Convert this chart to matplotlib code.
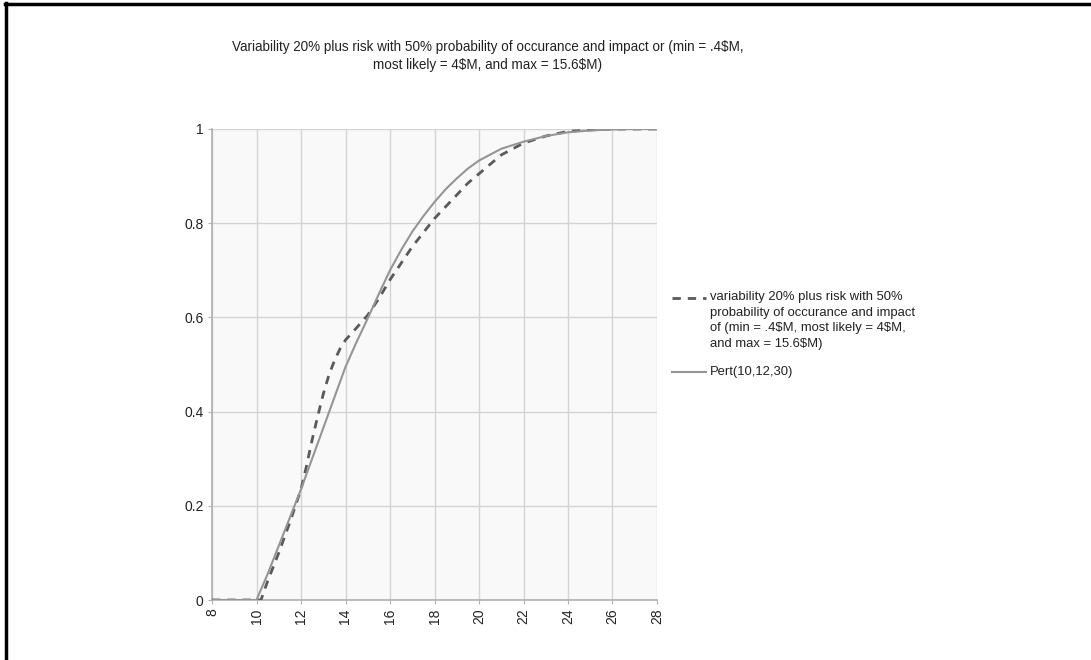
import matplotlib
matplotlib.use("Agg")
import matplotlib.pyplot as plt
from matplotlib.lines import Line2D

plt.rcParams['font.family'] = ['Liberation Sans', 'DejaVu Sans']

title_text = ("Variability 20% plus risk with 50% probability of occurance and impact or (min = .4\\$M,\n"
              "most likely = 4\\$M, and max = 15.6\\$M)")

x_risk = [8, 9, 10, 10.2, 10.5, 11, 11.5, 12, 12.25, 12.5, 12.75, 13, 13.25, 13.5, 13.75,
          14, 14.5, 15, 15.5, 16, 16.5, 17, 17.5, 18, 18.5, 19, 19.5, 20, 21, 22, 23, 24,
          25, 26, 27, 28]
y_risk = [0, 0, 0, 0.0, 0.04, 0.10, 0.165, 0.235, 0.285, 0.34, 0.39, 0.437, 0.477, 0.508,
          0.533, 0.552, 0.578, 0.605, 0.64, 0.68, 0.715, 0.75, 0.78, 0.81, 0.835, 0.86,
          0.885, 0.905, 0.945, 0.97, 0.985, 0.995, 0.998, 1.0, 1.0, 1.0]

x_pert = [8, 9, 10, 10.5, 11, 11.5, 12, 12.5, 13, 13.5, 14, 14.5, 15, 15.5, 16, 16.5,
          17, 17.5, 18, 18.5, 19, 19.5, 20, 21, 22, 23, 24, 25, 26, 27, 28]
y_pert = [0, 0, 0, 0.055, 0.115, 0.175, 0.235, 0.30, 0.365, 0.43, 0.495, 0.548, 0.598,
          0.65, 0.70, 0.743, 0.782, 0.815, 0.845, 0.872, 0.895, 0.916, 0.933, 0.958,
          0.973, 0.985, 0.993, 0.997, 0.999, 1.0, 1.0]

label_risk = ("variability 20% plus risk with 50%\nprobability of occurance and impact\n"
              "of (min = .4\\$M, most likely = 4\\$M,\nand max = 15.6\\$M)")
label_pert = "Pert(10,12,30)"

x_ticks = list(range(8, 29, 2))
y_ticks = [0, 0.2, 0.4, 0.6, 0.8, 1]
y_ticklabels = ["0", "0.2", "0.4", "0.6", "0.8", "1"]

W, H = 1091, 660
fig = plt.figure(figsize=(W / 100, H / 100), dpi=100)
ax = fig.add_axes([212 / W, 1 - 600 / H, (657 - 212) / W, (600 - 129) / H])
ax.set_facecolor('#f9f9f9')

risk_style = dict(color='#5a5a5a', lw=2.0, ls=(0, (3, 2.5)))
pert_style = dict(color='#959595', lw=1.5, ls='-')
ax.plot(x_risk, y_risk, zorder=3, **risk_style)
ax.plot(x_pert, y_pert, zorder=3, **pert_style)

ax.set_xlim(8, 28)
ax.set_ylim(0, 1)
ax.set_xticks(x_ticks)
ax.set_xticklabels([str(v) for v in x_ticks], rotation=90, fontsize=10)
ax.set_yticks(y_ticks)
ax.set_yticklabels(y_ticklabels, fontsize=10)
ax.grid(True, color='#d4d4d4', lw=1.0)
ax.set_axisbelow(True)
for s in ['top', 'right']:
    ax.spines[s].set_visible(False)
for s in ['left', 'bottom']:
    ax.spines[s].set_color('#b0b0b0')
    ax.spines[s].set_linewidth(1.2)
ax.tick_params(axis='both', length=3, color='#b0b0b0', labelcolor='#222222', pad=3)

fig.text(488 / W, 1 - 40 / H, title_text, ha='center', va='top', fontsize=9.75,
         color='#222222', linespacing=1.35)

# legend (handles aligned with the first text line, as in the reference)
def fx(px):
    return px / W

def fy(py):
    return 1 - py / H

fig.add_artist(Line2D([fx(672), fx(706)], [fy(298), fy(298)], transform=fig.transFigure, **risk_style))
fig.text(fx(710), fy(291), label_risk, ha='left', va='top', fontsize=9.4,
         color='#222222', linespacing=1.4)
fig.add_artist(Line2D([fx(672), fx(706)], [fy(372), fy(372)], transform=fig.transFigure, **pert_style))
fig.text(fx(710), fy(372), label_pert, ha='left', va='center', fontsize=9.4, color='#222222')

# figure frame (left and top edges)
fig.add_artist(Line2D([6 / W, 6 / W], [0, 1 - 3 / H], color='black', lw=2.5, transform=fig.transFigure))
fig.add_artist(Line2D([5 / W, 1], [1 - 4 / H, 1 - 4 / H], color='black', lw=2.5, transform=fig.transFigure))

fig.savefig('out.png', dpi=100)
